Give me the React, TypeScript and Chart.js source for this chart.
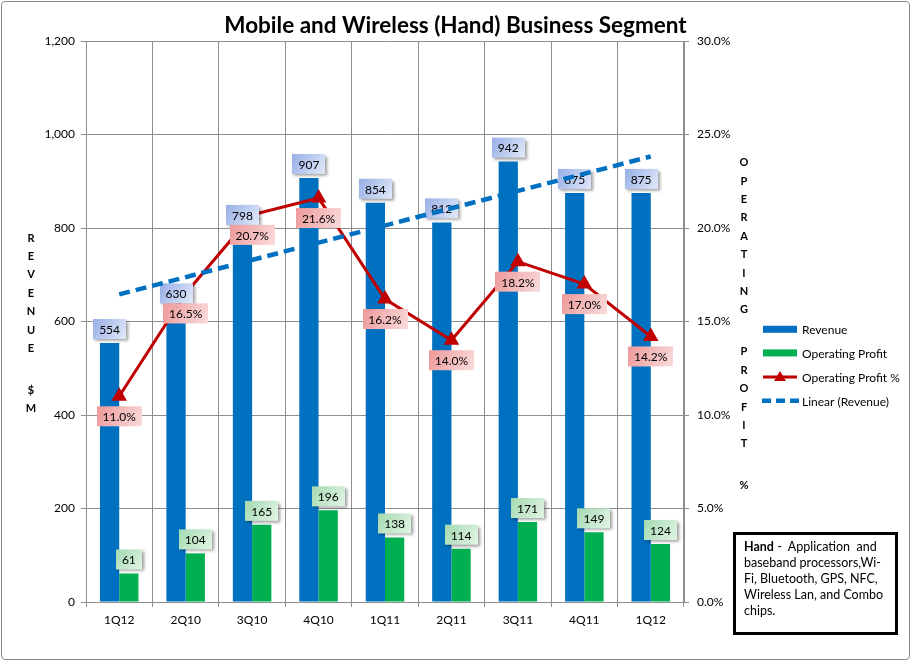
import { useEffect, useRef } from "react";
import { Chart, registerables, type Plugin } from "chart.js";

Chart.register(...registerables);

const quarters = ["1Q12", "2Q10", "3Q10", "4Q10", "1Q11", "2Q11", "3Q11", "4Q11", "1Q12"];
const revenue = [554, 630, 798, 907, 854, 812, 942, 875, 875];
const operatingProfit = [61, 104, 165, 196, 138, 114, 171, 149, 124];
const operatingMargin = [11.0, 16.5, 20.7, 21.6, 16.2, 14.0, 18.2, 17.0, 14.2];
// Excel linear trendline, end points
const revenueTrend = [658, null, null, null, null, null, null, null, 953];

const FONT = "Lato, 'Open Sans', sans-serif";
const GRID = "#8e8e8e";
const BLUE = "#0070C0";
const GREEN = "#00B050";
const RED = "#C00000";

function labelBox(
  ctx: CanvasRenderingContext2D,
  text: string,
  cx: number,
  top: number,
  c0: string,
  c1: string,
  shadow: boolean
) {
  ctx.font = `12px ${FONT}`;
  const w = Math.round(ctx.measureText(text).width + 12);
  const h = 20;
  const x = Math.round(cx - w / 2);
  const g = ctx.createLinearGradient(x, top, x + w, top + h);
  g.addColorStop(0, c0);
  g.addColorStop(1, c1);
  ctx.save();
  if (shadow) {
    ctx.shadowColor = "rgba(0,0,0,0.4)";
    ctx.shadowOffsetX = 2;
    ctx.shadowOffsetY = 2;
    ctx.shadowBlur = 3;
  }
  ctx.fillStyle = g;
  ctx.fillRect(x, top, w, h);
  ctx.restore();
  ctx.fillStyle = "#000";
  ctx.textAlign = "center";
  ctx.textBaseline = "middle";
  ctx.fillText(text, cx, top + h / 2 + 1);
}

// labels sit above the red line but under the trendline
const dataLabels: Plugin<"bar"> = {
  id: "dataLabels",
  afterDatasetDraw(chart, args) {
    if (args.index !== 2) return;
    const ctx = chart.ctx;
    ctx.save();
    chart.getDatasetMeta(0).data.forEach((el, i) => {
      labelBox(ctx, String(revenue[i]), el.x, el.y - 24, "#97afe6", "#e2e9fa", true);
    });
    chart.getDatasetMeta(1).data.forEach((el, i) => {
      labelBox(ctx, String(operatingProfit[i]), el.x, el.y - 24, "#a3dab0", "#e3f4e6", true);
    });
    chart.getDatasetMeta(2).data.forEach((el, i) => {
      labelBox(ctx, operatingMargin[i].toFixed(1) + "%", el.x, el.y + 10, "#ee9898", "#f9dcdc", false);
    });
    ctx.restore();
  },
};

function drawStack(ctx: CanvasRenderingContext2D, words: string[], x: number, y0: number) {
  let y = y0;
  words.forEach((word, wi) => {
    if (wi > 0) y += 23.5;
    for (const ch of word) {
      ctx.fillText(ch, x, y);
      y += 18.4;
    }
  });
}

const decorations: Plugin<"bar"> = {
  id: "decorations",
  afterDraw(chart) {
    const ctx = chart.ctx;
    ctx.save();
    ctx.fillStyle = "#000";
    ctx.textAlign = "center";
    ctx.textBaseline = "alphabetic";
    ctx.font = `bold 22.5px ${FONT}`;
    ctx.fillText("Mobile and Wireless (Hand) Business Segment", 455.5, 33);

    ctx.font = `bold 11px ${FONT}`;
    ctx.textBaseline = "middle";
    drawStack(ctx, ["REVENUE", "$M"], 31, 238);
    drawStack(ctx, ["OPERATING", "PROFIT", "%"], 744, 162.7);

    // legend
    const lx = 763;
    const rows = [329.3, 352.9, 376.9, 400.7];
    ctx.fillStyle = BLUE;
    ctx.fillRect(lx, rows[0] - 3.5, 34, 7);
    ctx.fillStyle = GREEN;
    ctx.fillRect(lx, rows[1] - 3.5, 34, 7);
    ctx.strokeStyle = RED;
    ctx.lineWidth = 3;
    ctx.beginPath();
    ctx.moveTo(lx, rows[2]);
    ctx.lineTo(lx + 34, rows[2]);
    ctx.stroke();
    ctx.fillStyle = RED;
    ctx.beginPath();
    ctx.moveTo(lx + 17, rows[2] - 6);
    ctx.lineTo(lx + 23, rows[2] + 4);
    ctx.lineTo(lx + 11, rows[2] + 4);
    ctx.closePath();
    ctx.fill();
    ctx.strokeStyle = BLUE;
    ctx.lineWidth = 4.5;
    ctx.setLineDash([9, 5]);
    ctx.beginPath();
    ctx.moveTo(lx - 1, rows[3]);
    ctx.lineTo(lx + 36, rows[3]);
    ctx.stroke();
    ctx.setLineDash([]);

    ctx.fillStyle = "#000";
    ctx.textAlign = "left";
    ctx.font = `12px ${FONT}`;
    ["Revenue", "Operating Profit", "Operating Profit %", "Linear (Revenue)"].forEach((t, i) => {
      ctx.fillText(t, 802, rows[i] + 1);
    });
    ctx.restore();
  },
};

export default function App() {
  const canvasRef = useRef<HTMLCanvasElement>(null);
  const chartRef = useRef<Chart | null>(null);

  useEffect(() => {
    if (!canvasRef.current) return;
    const tickFont = { family: FONT, size: 12 };

    chartRef.current = new Chart(canvasRef.current, {
      type: "bar",
      data: {
        labels: quarters,
        datasets: [
          {
            label: "Revenue",
            data: revenue,
            backgroundColor: BLUE,
            yAxisID: "y",
            order: 3,
            categoryPercentage: 0.58,
            barPercentage: 1,
          },
          {
            label: "Operating Profit",
            data: operatingProfit,
            backgroundColor: GREEN,
            yAxisID: "y",
            order: 4,
            categoryPercentage: 0.58,
            barPercentage: 1,
          },
          {
            type: "line",
            label: "Operating Profit %",
            data: operatingMargin,
            borderColor: RED,
            backgroundColor: RED,
            borderWidth: 3,
            pointStyle: "triangle",
            pointRadius: 6,
            tension: 0,
            yAxisID: "yRight",
            order: 2,
          },
          {
            type: "line",
            label: "Linear (Revenue)",
            data: revenueTrend,
            spanGaps: true,
            borderColor: BLUE,
            borderDash: [11, 6],
            borderWidth: 4.5,
            pointRadius: 0,
            yAxisID: "y",
            order: 1,
          },
        ] as any,
      },
      options: {
        responsive: true,
        maintainAspectRatio: false,
        animation: false,
        layout: { padding: { left: 0, right: 167, top: 41, bottom: 0 } },
        plugins: {
          legend: { display: false },
          tooltip: { enabled: false },
        },
        scales: {
          x: {
            offset: true,
            grid: { offset: true, color: GRID, tickLength: 5 },
            border: { color: GRID },
            ticks: { color: "#000", font: tickFont, padding: 6, maxRotation: 0, autoSkip: false },
            afterFit: (s) => {
              s.height = 59;
            },
          },
          y: {
            position: "left",
            min: 0,
            max: 1200,
            grid: { color: GRID, tickLength: 5 },
            border: { color: GRID },
            ticks: {
              stepSize: 200,
              color: "#000",
              font: tickFont,
              padding: 6,
              callback: (v) => Number(v).toLocaleString("en-US"),
            },
            afterFit: (s) => {
              s.width = 86;
            },
          },
          yRight: {
            position: "right",
            min: 0,
            max: 30,
            grid: { drawOnChartArea: false, color: GRID, tickLength: 5 },
            border: { color: GRID },
            ticks: {
              stepSize: 5,
              color: "#000",
              font: tickFont,
              padding: 8,
              callback: (v) => Number(v).toFixed(1) + "%",
            },
            afterFit: (s) => {
              s.width = 60;
            },
          },
        },
      },
      plugins: [dataLabels, decorations],
    });

    return () => {
      chartRef.current?.destroy();
    };
  }, []);

  return (
    <div
      style={{
        position: "absolute",
        left: 0,
        top: 0,
        width: 911,
        height: 661,
        background: "#fff",
        fontFamily: FONT,
      }}
    >
      <div style={{ position: "relative", width: 911, height: 661 }}>
        <canvas ref={canvasRef} role="img" aria-label="Mobile and Wireless (Hand) business segment chart" />
      </div>
      <div
        style={{
          position: "absolute",
          left: 1,
          top: 1,
          width: 909,
          height: 659,
          boxSizing: "border-box",
          border: "1px solid #8a8a8a",
          borderRadius: 4,
          pointerEvents: "none",
        }}
      />
      <div
        style={{
          position: "absolute",
          left: 733,
          top: 532,
          width: 165,
          height: 103,
          boxSizing: "border-box",
          border: "3px solid #000",
          padding: "4px 0 0 8px",
          fontSize: 12.5,
          lineHeight: "16px",
          color: "#000",
          whiteSpace: "pre",
        }}
      >
        <b>Hand</b>
        {" -  Application  and\nbaseband processors,Wi-\nFi, Bluetooth, GPS, NFC,\nWireless Lan, and Combo\nchips."}
      </div>
    </div>
  );
}
